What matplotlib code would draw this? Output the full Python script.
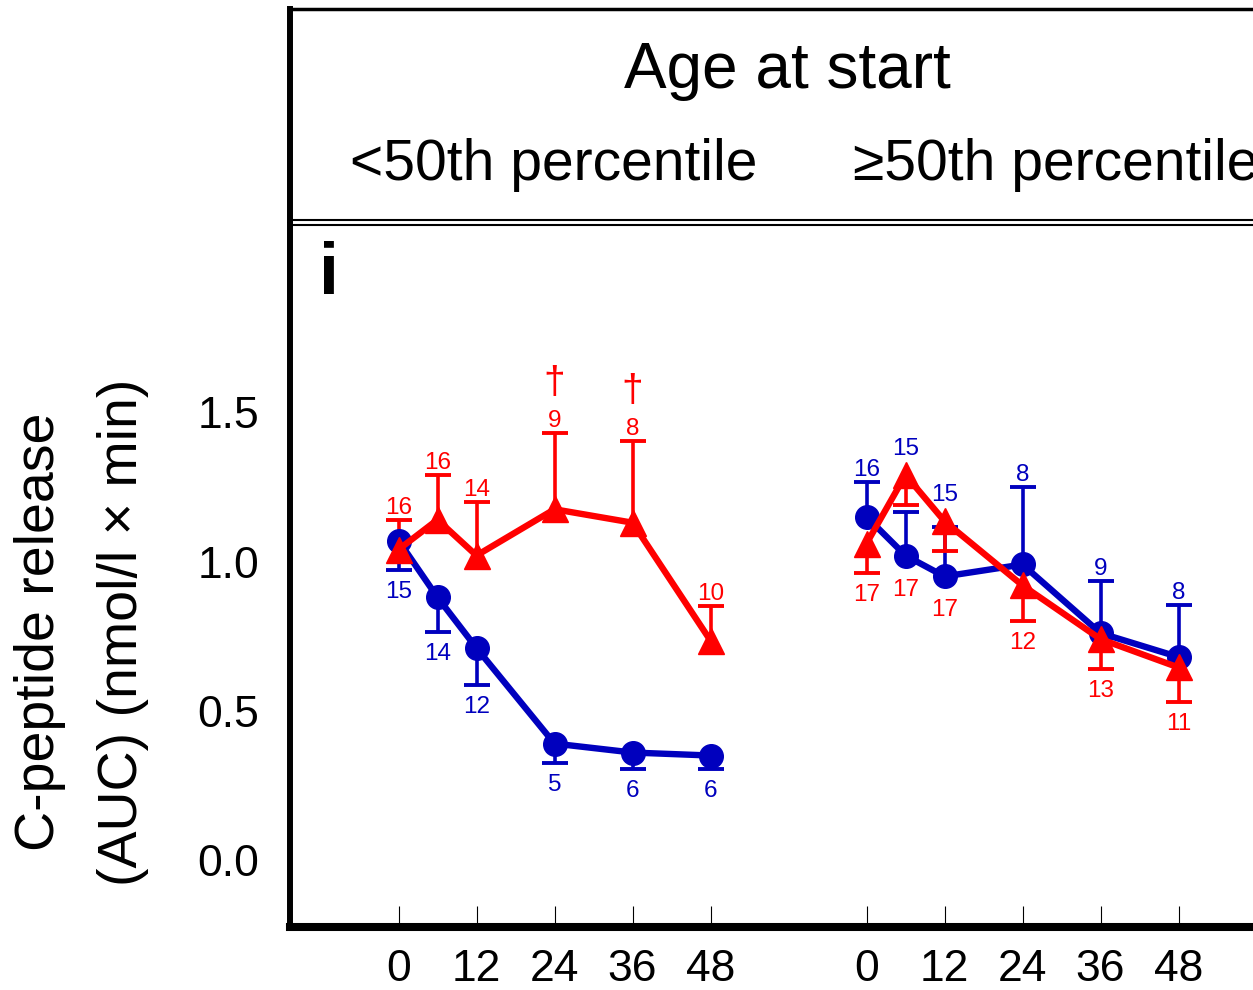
import matplotlib
matplotlib.use('Agg')
import matplotlib.pyplot as plt

plt.rcParams['font.family'] = ['Liberation Sans', 'DejaVu Sans']

# months of follow-up, right panel is shifted along the same x axis
months = [0, 6, 12, 24, 36, 48]
tick_months = [0, 12, 24, 36, 48]
group_offset = 72

# <50th percentile
blue_lo_mean = [1.07, 0.88, 0.71, 0.39, 0.36, 0.35]
blue_lo_sem = [0.10, 0.115, 0.125, 0.065, 0.055, 0.045]
blue_lo_n = ['15', '14', '12', '5', '6', '6']
red_lo_mean = [1.04, 1.14, 1.02, 1.175, 1.13, 0.735]
red_lo_sem = [0.10, 0.15, 0.18, 0.255, 0.275, 0.115]
red_lo_n = ['16', '16', '14', '9', '8', '10']
red_lo_sig = ['', '', '', '†', '†', '']

# >=50th percentile
blue_hi_mean = [1.15, 1.02, 0.95, 0.99, 0.76, 0.68]
blue_hi_sem = [0.115, 0.145, 0.165, 0.26, 0.175, 0.175]
blue_hi_n = ['16', '15', '15', '8', '9', '8']
red_hi_mean = [1.06, 1.29, 1.135, 0.92, 0.74, 0.645]
red_hi_sem = [0.10, 0.10, 0.10, 0.12, 0.10, 0.115]
red_hi_n = ['17', '17', '17', '12', '13', '11']

BLUE = '#0000BE'
RED = '#FF0000'

fig = plt.figure(figsize=(12.53, 9.9), dpi=100)
ax = fig.add_axes([290 / 1253, 63 / 990, 1 - 290 / 1253, 702 / 990])
hdr = fig.add_axes([290 / 1253, 770 / 990, 1 - 290 / 1253, 211 / 990])

x0 = 398.5
ppm = 6.5     # pixels per month
ppu = 298.5   # pixels per y unit
xlim = ((290 - x0) / ppm, (1253 - x0) / ppm)
ax.set_xlim(*xlim)
ax.set_ylim(-(927 - 860) / ppu, (860 - 225) / ppu)
hdr.set_xlim(*xlim)
hdr.set_ylim(0, 1)

# half marker heights in data units, used to keep the n labels clear of markers
circ_r = 12 / ppu
tri_r = 14 / ppu


def series(xs, mean, sem, color, marker, down, ms):
    zeros = [0] * len(sem)
    yerr = [sem, zeros] if down else [zeros, sem]
    line, caps, bars = ax.errorbar(xs, mean, yerr=yerr, color=color, marker=marker,
                                   ms=ms, lw=4.6, elinewidth=2.6, capsize=9.5,
                                   capthick=2.8, clip_on=False)
    # keep only the cap at the end of the one-sided bar
    caps[1 if down else 0].set_visible(False)


def label(x, y, text, color, up, size=17.5):
    off = 6 if up else -28
    ax.annotate(text, (x, y), xytext=(0, off), textcoords='offset pixels',
                ha='center', va='baseline', color=color, fontsize=size)


xs_lo = months
xs_hi = [m + group_offset for m in months]

series(xs_lo, blue_lo_mean, blue_lo_sem, BLUE, 'o', True, 17)
series(xs_lo, red_lo_mean, red_lo_sem, RED, '^', False, 19)
series(xs_hi, blue_hi_mean, blue_hi_sem, BLUE, 'o', False, 17)
series(xs_hi, red_hi_mean, red_hi_sem, RED, '^', True, 19)

# left panel: red n above, blue n below
for i, x in enumerate(xs_lo):
    top = max(red_lo_mean[i] + red_lo_sem[i], blue_lo_mean[i] + circ_r)
    bot = min(blue_lo_mean[i] - blue_lo_sem[i], red_lo_mean[i] - tri_r)
    label(x, top, red_lo_n[i], RED, True)
    label(x, bot, blue_lo_n[i], BLUE, False)
    if red_lo_sig[i]:
        ax.annotate(red_lo_sig[i], (x, top), xytext=(0, 50), textcoords='offset pixels',
                    ha='center', va='center', color=RED, fontsize=28)

# right panel: blue n above, red n below
for i, x in enumerate(xs_hi):
    top = max(blue_hi_mean[i] + blue_hi_sem[i], red_hi_mean[i] + tri_r)
    bot = min(red_hi_mean[i] - red_hi_sem[i], blue_hi_mean[i] - circ_r)
    label(x, top, blue_hi_n[i], BLUE, True)
    label(x, bot, red_hi_n[i], RED, False)

# panel letter
ax.text((319 - x0) / ppm, (860 - 294) / ppu, 'i', fontsize=52, fontweight='bold',
        ha='left', va='baseline')

# axes styling
ax.set_xticks(tick_months + [m + group_offset for m in tick_months])
ax.set_xticklabels([str(m) for m in tick_months] * 2)
ax.set_yticks([0, 0.5, 1.0, 1.5])
ax.set_yticklabels(['0.0', '0.5', '1.0', '1.5'])
ax.tick_params(axis='x', direction='in', length=15, width=0.8, pad=16, labelsize=32)
ax.tick_params(axis='y', length=0, pad=22, labelsize=32)
ax.spines['right'].set_visible(False)
ax.spines['left'].set_linewidth(4.3)
ax.spines['bottom'].set_linewidth(5.8)
ax.spines['top'].set_linewidth(1.5)

fig.text(40 / 1253, 1 - 632 / 990, 'C-peptide release', rotation=90,
         ha='center', va='center', fontsize=40)
fig.text(123 / 1253, 1 - 632 / 990, '(AUC) (nmol/l \u00d7 min)', rotation=90,
         ha='center', va='center', fontsize=40)

# header box
hdr.set_xticks([])
hdr.set_yticks([])
hdr.spines['right'].set_visible(False)
hdr.spines['left'].set_linewidth(4.3)
hdr.spines['top'].set_linewidth(2.5)
hdr.spines['bottom'].set_linewidth(1.5)
hdr.text((787 - x0) / ppm, (220 - 88) / 211, 'Age at start', ha='center',
         va='baseline', fontsize=46)
hdr.text((554 - x0) / ppm, (220 - 180) / 211, '<50th percentile', ha='center',
         va='baseline', fontsize=41)
hdr.text((853 - x0) / ppm, (220 - 180) / 211, '\u226550th percentile', ha='left',
         va='baseline', fontsize=41)

fig.savefig('out.png', dpi=100)
